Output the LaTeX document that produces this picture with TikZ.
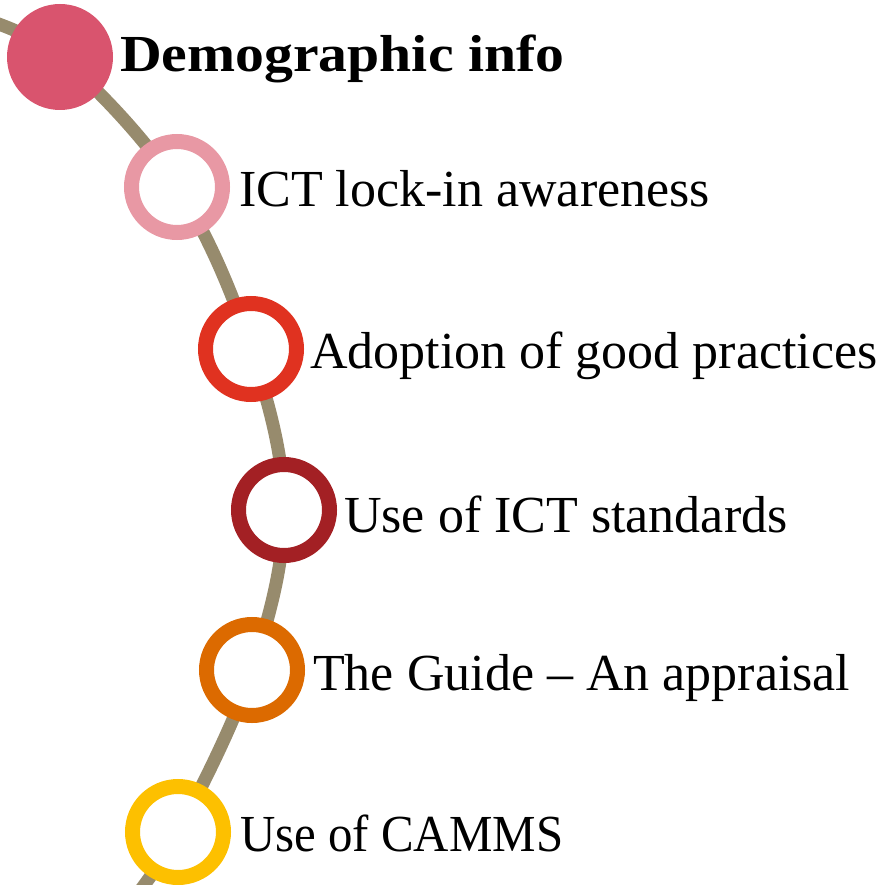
\documentclass[tikz,border=0pt]{standalone}
\usepackage{fontspec}
\setmainfont{Liberation Serif}
\definecolor{track}{HTML}{978B6D}
\definecolor{cA}{HTML}{D9546E}
\definecolor{cB}{HTML}{E898A4}
\definecolor{cC}{HTML}{E03220}
\definecolor{cD}{HTML}{A32024}
\definecolor{cE}{HTML}{DC6A00}
\definecolor{cF}{HTML}{FDC000}
\tikzset{
  ring/.style={circle, draw=#1, line width=15pt, fill=white, minimum size=91pt, inner sep=0pt},
  dot/.style={circle, fill=#1, minimum size=106pt, inner sep=0pt},
  lbl/.style={anchor=base west, inner sep=0pt, font=\fontsize{52}{62}\selectfont},
}
\begin{document}
\begin{tikzpicture}[x=1pt,y=-1pt]
\useasboundingbox (0,0) rectangle (883,885);
% stops along the track
\coordinate (s0) at (-30,15);
\coordinate (p1) at (60,57);
\coordinate (p2) at (177,187);
\coordinate (p3) at (251,349);
\coordinate (p4) at (284,510);
\coordinate (p5) at (252,670);
\coordinate (p6) at (178,832);
\coordinate (s7) at (125,910);
% the track
\draw[track, line width=13pt] plot[smooth, tension=0.6] coordinates {(s0) (p1) (p2) (p3) (p4) (p5) (p6) (s7)};
% stations
\node[dot=cA] (n1) at (p1) {};
\node[ring=cB] (n2) at (p2) {};
\node[ring=cC] (n3) at (p3) {};
\node[ring=cD] (n4) at (p4) {};
\node[ring=cE] (n5) at (p5) {};
\node[ring=cF] (n6) at (p6) {};
% labels
\node[lbl, font=\fontsize{52}{62}\selectfont\bfseries] (t1) at (120,72) {\scalebox{1.11}[1]{Demographic info}};
\node[lbl] (t2) at (239,207) {ICT lock-in awareness};
\node[lbl] (t3) at (310,368) {Adoption of good practices};
\node[lbl] (t4) at (344,532) {Use of ICT standards};
\node[lbl] (t5) at (313,690) {The Guide – An appraisal};
\node[lbl] (t6) at (240,851) {\scalebox{0.94}[1]{Use of CAMMS}};
\end{tikzpicture}
\end{document}
